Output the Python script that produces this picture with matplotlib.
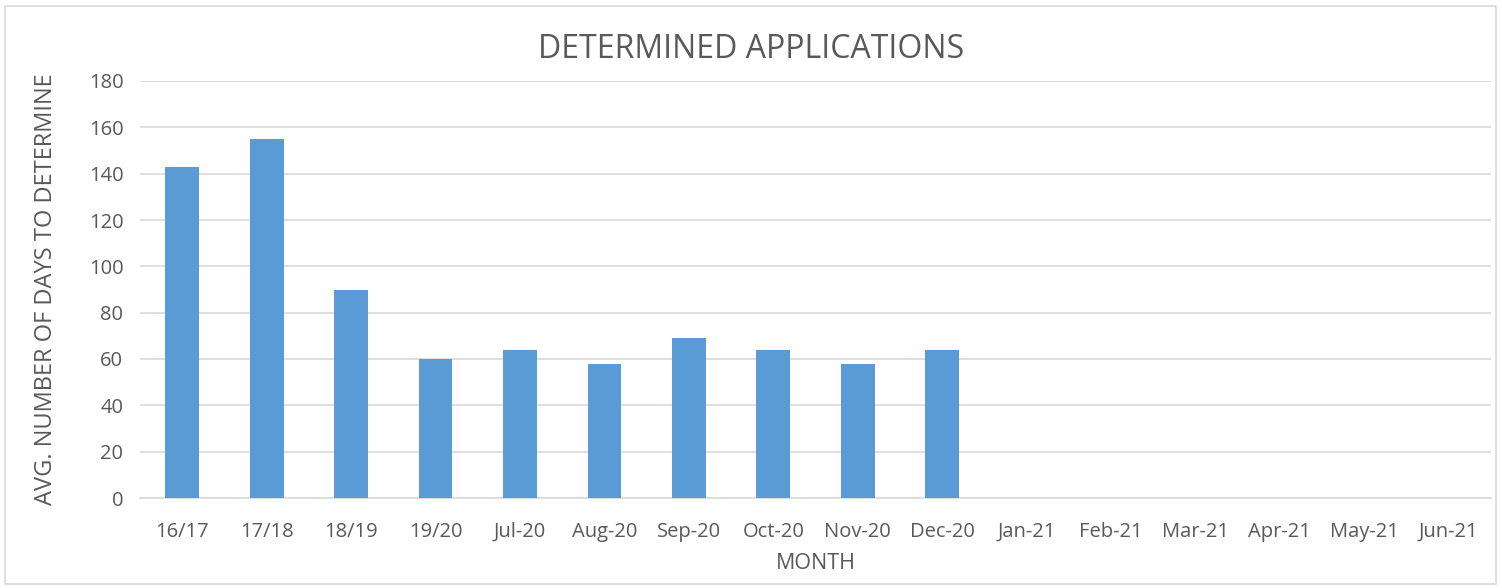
import matplotlib.pyplot as plt
from matplotlib.patches import Rectangle

months = ['16/17', '17/18', '18/19', '19/20', 'Jul-20', 'Aug-20', 'Sep-20', 'Oct-20',
          'Nov-20', 'Dec-20', 'Jan-21', 'Feb-21', 'Mar-21', 'Apr-21', 'May-21', 'Jun-21']
avg_days = [143, 155, 90, 60, 64, 58, 69, 64, 58, 64, None, None, None, None, None, None]

plt.rcParams['font.family'] = ['Open Sans', 'DejaVu Sans']
text_col = '#595959'

W, H = 1502, 588
fig = plt.figure(figsize=(W / 100, H / 100), dpi=100)
ax = fig.add_axes([140 / W, 1 - 498 / H, 1351 / W, 417 / H])

xs = [i for i, v in enumerate(avg_days) if v is not None]
vals = [v for v in avg_days if v is not None]
ax.bar(xs, vals, width=0.40, color='#5B9BD5', zorder=3)

ax.set_xlim(-0.5, len(months) - 0.5)
ax.set_ylim(0, 180)
ax.set_yticks(range(0, 181, 20))
ax.set_xticks(range(len(months)))
ax.set_xticklabels(months)
ax.tick_params(axis='both', length=0, labelsize=14.5, colors=text_col)
ax.tick_params(axis='x', pad=17)
ax.tick_params(axis='y', pad=12)
ax.grid(axis='y', color='#D9D9D9', linewidth=1.2, zorder=0)
for s in ['top', 'right', 'left']:
    ax.spines[s].set_visible(False)
ax.spines['bottom'].set_color('#D9D9D9')
ax.spines['bottom'].set_linewidth(1.2)

ax.set_xlabel('MONTH', fontsize=15.5, color=text_col, labelpad=8)
ax.set_ylabel('AVG. NUMBER OF DAYS TO DETERMINE', fontsize=17, color=text_col, labelpad=22)
fig.text(0.5, 1 - 50 / H, 'DETERMINED APPLICATIONS', ha='center', va='center',
         fontsize=23, color=text_col)

fig.patches.append(Rectangle((5 / W, 4 / H), 1491 / W, 578 / H, transform=fig.transFigure,
                             fill=False, edgecolor='#D9D9D9', linewidth=1.2))

fig.savefig('out.png', dpi=100)
